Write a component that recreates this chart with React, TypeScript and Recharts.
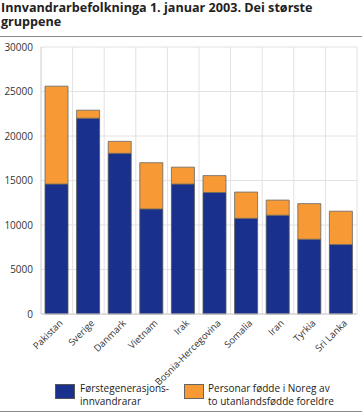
import React from 'react'
import { BarChart, Bar, XAxis, YAxis, CartesianGrid } from 'recharts'

const countries = ['Pakistan', 'Sverige', 'Danmark', 'Vietnam', 'Irak', 'Bosnia-Hercegovina', 'Somalia', 'Iran', 'Tyrkia', 'Sri Lanka']
const firstGen = [14600, 22000, 18050, 11800, 14600, 13650, 10750, 11100, 8400, 7800]
const bornInNorway = [11000, 900, 1350, 5200, 1900, 1900, 2950, 1700, 4000, 3750]
const yTicks = [0, 5000, 10000, 15000, 20000, 25000, 30000]

const BLUE = '#19318c'
const ORANGE = '#f79a35'
const FONT = '"Open Sans", "DejaVu Sans", sans-serif'

const data = countries.map((name, i) => ({
  name,
  first: firstGen[i],
  second: bornInNorway[i],
}))

function RotatedTick({ x, y, payload }: { x: number; y: number; payload: { value: string } }) {
  const tx = x + 1
  const ty = y - 4
  return (
    <text
      x={tx}
      y={ty}
      transform={`rotate(-45 ${tx} ${ty})`}
      textAnchor="end"
      dominantBaseline="hanging"
      fontSize={9.5}
      fill="#333"
      fontFamily={FONT}
    >
      {payload.value}
    </text>
  )
}

export default function App() {
  return (
    <div style={{ position: 'absolute', left: 0, top: 0, width: 362, height: 414, background: '#fff', fontFamily: FONT }}>
      <div style={{ position: 'absolute', left: 1, top: 1, fontSize: 12.6, fontWeight: 700, lineHeight: '14px', color: '#222', width: 361 }}>
        Innvandrarbefolkninga 1. januar 2003. Dei største
        <br />
        gruppene
      </div>
      <div style={{ position: 'absolute', left: 0, top: 36, width: 362, height: 1, background: '#888' }} />
      <BarChart
        width={362}
        height={414}
        data={data}
        margin={{ top: 47, right: 5, left: 0, bottom: 30 }}
        barSize={23}
      >
        <CartesianGrid
          stroke="#e2e2e2"
          verticalCoordinatesGenerator={({ offset }: any) =>
            countries.map((_, i) => offset.left + ((i + 1) * offset.width) / countries.length)
          }
        />
        <XAxis
          dataKey="name"
          interval={0}
          height={70}
          tick={RotatedTick as never}
          tickLine={false}
          axisLine={{ stroke: '#ccc' }}
        />
        <YAxis
          width={41}
          domain={[0, 30000]}
          ticks={yTicks}
          tickLine={false}
          axisLine={{ stroke: '#ccc' }}
          tick={{ fontSize: 10, fill: '#333', fontFamily: FONT }}
          tickMargin={2}
        />
        <Bar dataKey="first" stackId="a" fill={BLUE} stroke="#555" strokeWidth={0.8} isAnimationActive={false} />
        <Bar dataKey="second" stackId="a" fill={ORANGE} stroke="#666" strokeWidth={0.8} isAnimationActive={false} />
      </BarChart>
      <div style={{ position: 'absolute', left: 55, top: 384, width: 20, height: 15, background: BLUE, border: '1px solid #555', boxSizing: 'border-box' }} />
      <div style={{ position: 'absolute', left: 80, top: 382, fontSize: 10, lineHeight: '13px', color: '#222' }}>
        Førstegenerasjons-
        <br />
        innvandrarar
      </div>
      <div style={{ position: 'absolute', left: 184, top: 384, width: 20, height: 15, background: ORANGE, border: '1px solid #666', boxSizing: 'border-box' }} />
      <div style={{ position: 'absolute', left: 208, top: 382, fontSize: 10, lineHeight: '13px', color: '#222' }}>
        Personar fødde i Noreg av
        <br />
        to utanlandsfødde foreldre
      </div>
      <div style={{ position: 'absolute', left: 0, top: 411, width: 362, height: 1, background: '#888' }} />
    </div>
  )
}
